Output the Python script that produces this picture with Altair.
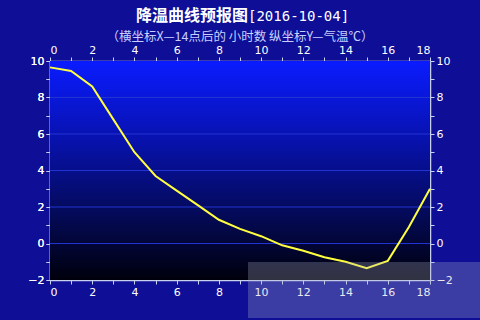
import altair as alt
import pandas as pd

hours = list(range(19))
temps = [9.65, 9.45, 8.6, 6.8, 5.0, 3.7, 2.9, 2.1, 1.3, 0.8, 0.4, -0.1, -0.4, -0.75, -1.0, -1.35, -0.95, 0.9, 3.0]
grid_vals = [0, 2, 4, 6, 8]
x_ticks = list(range(0, 19))
y_ticks = list(range(-2, 11))

W, H = 380, 219
AX = "#c8d0f0"

df = pd.DataFrame({"h": hours, "t": temps})
xs = alt.Scale(domain=[0, 18], nice=False, zero=False)
ys = alt.Scale(domain=[-2, 10], nice=False, zero=False)

def ax(orient, values):
    return alt.Axis(orient=orient, values=values, title=None, grid=False,
                    domainColor=AX, tickColor=AX, labelColor="#ffffff",
                    labelFont="DejaVu Sans", labelFontSize=11, tickSize=4,
                    labelPadding=2, domainWidth=1.5,
                    labelExpr="datum.value % 2 == 0 ? datum.label : ''")

one = pd.DataFrame({"a": [0]})

bg = alt.Chart(one).mark_rect(
    color=alt.Gradient(gradient="linear", x1=0, x2=0, y1=0, y2=1,
                       stops=[alt.GradientStop(color="#0a1cff", offset=0),
                              alt.GradientStop(color="#0812b0", offset=0.35),
                              alt.GradientStop(color="#040a58", offset=0.7),
                              alt.GradientStop(color="#00000c", offset=1)])
).encode(x=alt.value(0), x2=alt.value(W), y=alt.value(0), y2=alt.value(H))

grid = alt.Chart(pd.DataFrame({"g": grid_vals})).mark_rule(color="#2234d0", strokeWidth=1.2).encode(
    y=alt.Y("g:Q", scale=ys, axis=ax("left", y_ticks))
)

line = alt.Chart(df).mark_line(color="#ffff40", strokeWidth=2).encode(
    x=alt.X("h:Q", scale=xs, axis=ax("bottom", x_ticks)),
    y=alt.Y("t:Q", scale=ys, axis=ax("left", y_ticks)),
)

other = alt.Chart(df).mark_point(opacity=0).encode(
    x=alt.X("h:Q", scale=xs, axis=ax("top", x_ticks)),
    y=alt.Y("t:Q", scale=ys, axis=ax("right", y_ticks)),
)

t1 = alt.Chart(one).mark_text(text="降温曲线预报图", font="Noto Sans CJK SC", fontSize=16,
                              fontWeight="bold", color="#ffffff", align="right", baseline="alphabetic").encode(
    x=alt.value(198), y=alt.value(-40))
t2 = alt.Chart(one).mark_text(text="[2016-10-04]", font="DejaVu Sans Mono", fontSize=14,
                              color="#ffffff", align="left", baseline="alphabetic").encode(
    x=alt.value(198), y=alt.value(-40))
sub = alt.Chart(one).mark_text(text="（横坐标X—14点后的 小时数  纵坐标Y—气温℃）", font="Noto Sans CJK SC",
                               fontSize=12.5, color="#c8d0ff", align="center", baseline="alphabetic").encode(
    x=alt.value(190), y=alt.value(-20))

wm_box = alt.Chart(one).mark_rect(color="#b0b4c8", opacity=0.28).encode(
    x=alt.value(198), x2=alt.value(430), y=alt.value(201), y2=alt.value(257))

chart = alt.layer(bg, grid, line, other, wm_box, t1, t2, sub).resolve_axis(
    x="independent", y="independent"
).properties(
    width=W, height=H, autosize="none",
    padding={"left": 50, "top": 61, "right": 50, "bottom": 40},
    background="#0e0e96",
).configure_view(stroke=None)

chart.save("out.html", embed_options={"renderer": "svg", "actions": False})
